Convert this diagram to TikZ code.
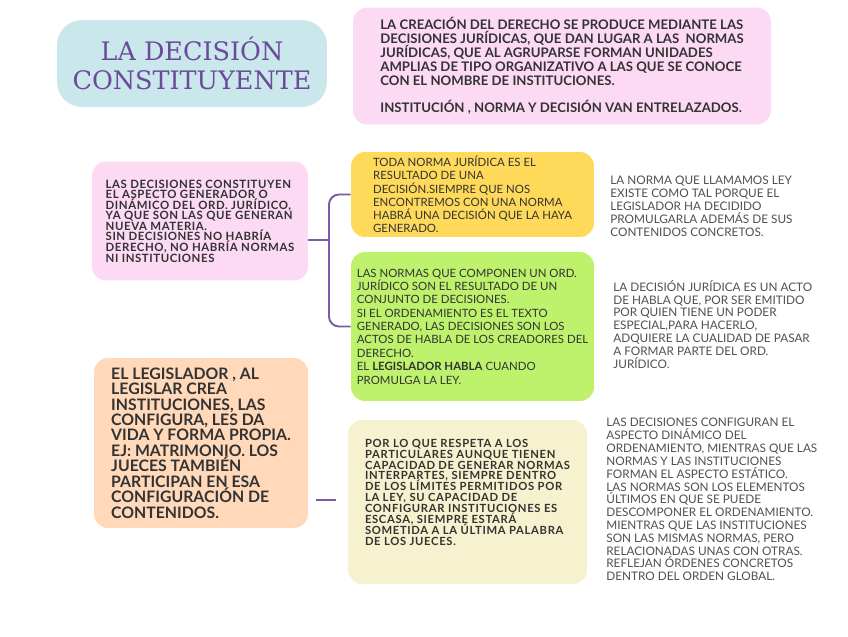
\documentclass[tikz,border=0pt]{standalone}
\usepackage{fontspec}
\setmainfont{Lato}
\newfontfamily\titlefont{DejaVu Serif}
\usepackage{tikz}
\usetikzlibrary{positioning}
\definecolor{dcblue}{RGB}{202,231,236}
\definecolor{dcpurple}{RGB}{107,74,154}
\definecolor{dcpink}{RGB}{252,218,244}
\definecolor{dcyellow}{RGB}{255,217,90}
\definecolor{dcgreen}{RGB}{190,242,108}
\definecolor{dcpeach}{RGB}{255,217,186}
\definecolor{dccream}{RGB}{246,241,206}
\definecolor{dcline}{RGB}{122,91,166}
\definecolor{dctext}{RGB}{51,51,51}
\definecolor{dcgray}{RGB}{80,80,80}

\begin{document}
\lineskiplimit=-100pt
\begin{tikzpicture}[x=0.02cm, y=-0.02cm,
  box/.style={rounded corners=0.28cm, align=left, text=dctext, inner sep=0pt},
  note/.style={anchor=north west, align=left, inner sep=0pt, text=dcgray,
    font=\fontsize{6.7}{7.3}\selectfont},
  conn/.style={dcline, line width=1.1pt, rounded corners=0.2cm}]
  \useasboundingbox[fill=white] (0,0) rectangle (848,636);
  % Title
  \node[box, fill=dcblue, rounded corners=0.5cm, minimum width=5.4cm, minimum height=1.74cm,
    align=center, text=dcpurple, font=\titlefont\fontsize{14.5}{16.4}\selectfont]
    (title) at (192,63.5) {LA DECISIÓN\\CONSTITUYENTE};
  % Intro box (top)
  \node[box, fill=dcpink, minimum width=8.36cm, minimum height=2.34cm,
    font=\bfseries\fontsize{7.5}{7.9}\selectfont]
    (intro) at (562,66) {LA CREACIÓN DEL DERECHO SE PRODUCE MEDIANTE LAS\\
    DECISIONES JURÍDICAS, QUE DAN LUGAR A LAS \ NORMAS\\
    JURÍDICAS, QUE AL AGRUPARSE FORMAN UNIDADES\\
    AMPLIAS DE TIPO ORGANIZATIVO A LAS QUE SE CONOCE\\
    CON EL NOMBRE DE INSTITUCIONES.\\[7.9pt]
    INSTITUCIÓN , NORMA Y DECISIÓN VAN ENTRELAZADOS.};
  % Left column
  \node[box, fill=dcpink, minimum width=4.32cm, minimum height=2.38cm,
    font=\bfseries\addfontfeature{LetterSpace=5}\fontsize{6.5}{6}\selectfont]
    (decis) at (200,221) {LAS DECISIONES CONSTITUYEN\\
    EL ASPECTO GENERADOR O\\
    DINÁMICO DEL ORD. JURÍDICO,\\
    YA QUE SON LAS QUE GENERAN\\
    NUEVA MATERIA.\\
    SIN DECISIONES NO HABRÍA\\
    DERECHO, NO HABRÍA NORMAS\\
    NI INSTITUCIONES};
  \node[box, fill=dcpeach, minimum width=4.28cm, minimum height=3.4cm,
    font=\bfseries\fontsize{9}{8.8}\selectfont]
    (legis) at (201,443) {EL LEGISLADOR , AL\\
    LEGISLAR CREA\\
    INSTITUCIONES, LAS\\
    CONFIGURA, LES DA\\
    VIDA Y FORMA PROPIA.\\
    EJ: MATRIMONIO. LOS\\
    JUECES TAMBIÉN\\
    PARTICIPAN EN ESA\\
    CONFIGURACIÓN DE\\
    CONTENIDOS.};
  % Middle column
  \node[box, fill=dcyellow, minimum width=4.86cm, minimum height=1.7cm,
    font=\fontsize{6.5}{7.5}\selectfont]
    (toda) at (472.5,194.5) {TODA NORMA JURÍDICA ES EL\\
    RESULTADO DE UNA\\
    DECISIÓN.SIEMPRE QUE NOS\\
    ENCONTREMOS CON UNA NORMA\\
    HABRÁ UNA DECISIÓN QUE LA HAYA\\
    GENERADO.};
  \node[box, fill=dcgreen, minimum width=4.86cm, minimum height=2.98cm,
    font=\fontsize{6.5}{7.6}\selectfont]
    (normas) at (472.5,326.5) {LAS NORMAS QUE COMPONEN UN ORD.\\
    JURÍDICO SON EL RESULTADO DE UN\\
    CONJUNTO DE DECISIONES.\\
    SI EL ORDENAMIENTO ES EL TEXTO\\
    GENERADO, LAS DECISIONES SON LOS\\
    ACTOS DE HABLA DE LOS CREADORES DEL\\
    DERECHO.\\
    EL \textbf{LEGISLADOR HABLA} CUANDO\\
    PROMULGA LA LEY.};
  \node[box, fill=dccream, minimum width=4.78cm, minimum height=3.28cm,
    font=\bfseries\addfontfeature{LetterSpace=6}\fontsize{6.4}{6.2}\selectfont]
    (partic) at (467.5,502) {POR LO QUE RESPETA A LOS\\
    PARTICULARES AUNQUE TIENEN\\
    CAPACIDAD DE GENERAR NORMAS\\
    INTERPARTES, SIEMPRE DENTRO\\
    DE LOS LÍMITES PERMITIDOS POR\\
    LA LEY, SU CAPACIDAD DE\\
    CONFIGURAR INSTITUCIONES ES\\
    ESCASA, SIEMPRE ESTARÁ\\
    SOMETIDA A LA ÚLTIMA PALABRA\\
    DE LOS JUECES.\\[5pt]};
  % Right column notes
  \node[note] (ley) at (610,176) {LA NORMA QUE LLAMAMOS LEY\\
    EXISTE COMO TAL PORQUE EL\\
    LEGISLADOR HA DECIDIDO\\
    PROMULGARLA ADEMÁS DE SUS\\
    CONTENIDOS CONCRETOS.};
  \node[note] (acto) at (613,280) {LA DECISIÓN JURÍDICA ES UN ACTO\\
    DE HABLA QUE, POR SER EMITIDO\\
    POR QUIEN TIENE UN PODER\\
    ESPECIAL,PARA HACERLO,\\
    ADQUIERE LA CUALIDAD DE PASAR\\
    A FORMAR PARTE DEL ORD.\\
    JURÍDICO.};
  \node[note] (estat) at (606,418) {LAS DECISIONES CONFIGURAN EL\\
    ASPECTO DINÁMICO DEL\\
    ORDENAMIENTO, MIENTRAS QUE LAS\\
    NORMAS Y LAS INSTITUCIONES\\
    FORMAN EL ASPECTO ESTÁTICO.\\
    LAS NORMAS SON LOS ELEMENTOS\\
    ÚLTIMOS EN QUE SE PUEDE\\
    DESCOMPONER EL ORDENAMIENTO.\\
    MIENTRAS QUE LAS INSTITUCIONES\\
    SON LAS MISMAS NORMAS, PERO\\
    RELACIONADAS UNAS CON OTRAS.\\
    REFLEJAN ÓRDENES CONCRETOS\\
    DENTRO DEL ORDEN GLOBAL.};
  % Connectors
  \coordinate (fork) at (329,240);
  \draw[conn] (decis.east |- fork) -- (fork);
  \draw[conn] (fork) |- (toda.west);
  \draw[conn] (fork) |- (normas.west);
  \coordinate (stubA) at (316,500);
  \coordinate (stubB) at (336,500);
  \draw[conn] (stubA) -- (stubB);
\end{tikzpicture}
\end{document}
